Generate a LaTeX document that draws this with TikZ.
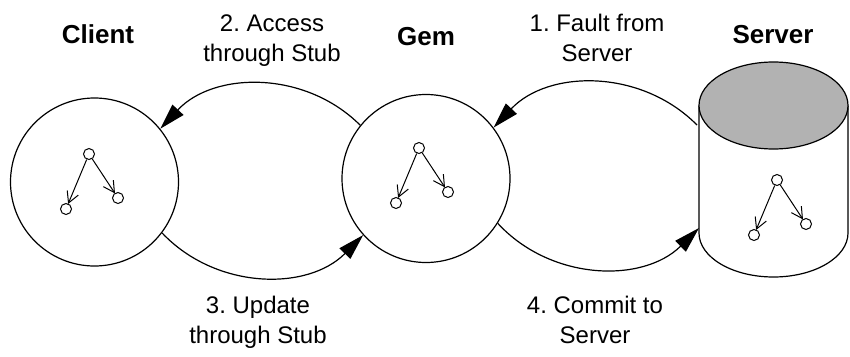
\documentclass[tikz,border=0pt]{standalone}
\usepackage{fontspec}
\setmainfont{Liberation Sans}
\usetikzlibrary{arrows.meta}
\frenchspacing

% big circles and the small object graphs inside them
\tikzset{
	store/.style={circle, draw, line width=1.2pt, minimum size=168pt, inner sep=0pt},
	obj/.style={circle, draw, line width=1pt, minimum size=11pt, inner sep=0pt},
	ref/.style={-{Straight Barb[length=11pt,width=12pt]}, line width=1pt, shorten >=-0.5pt},
	flow/.style={-{Triangle[length=26pt,width=15pt]}, line width=1.2pt, bend right=46},
	title/.style={font=\fontsize{26}{30}\selectfont\bfseries, anchor=base},
	msg/.style={font=\fontsize{24}{30}\selectfont, align=center, anchor=base}
}

% object graph: a root with two children, #1 = name prefix, (#2,#3) = root
\newcommand{\objgraph}[3]{%
	\node[obj] (#1root) at (#2,#3) {};
	\node[obj] (#1left) at (#2-23,#3+55) {};
	\node[obj] (#1right) at (#2+29,#3+44) {};
	\draw[ref] (#1root) -- (#1left);
	\draw[ref] (#1root) -- (#1right);
}

\begin{document}
\begin{tikzpicture}[x=1pt, y=-1pt]
	\useasboundingbox (0,0) rectangle (850,356);

	% Client and Gem
	\node[store] (client) at (94.5,182) {};
	\node[store] (gem) at (426,178.5) {};

	% Server cylinder
	\filldraw[fill=white, line width=1.2pt] (699,105.5) -- (699,233)
		arc[start angle=180, end angle=360, x radius=74.5pt, y radius=44pt] -- (848,105.5);
	\filldraw[fill=black!30, line width=1.2pt] (773.5,105.5) ellipse[x radius=74.5pt, y radius=43.5pt];
	\coordinate (srvtop) at (697,125);
	\coordinate (srvbot) at (699,228);

	% Object graphs
	\objgraph{c}{89}{154}
	\objgraph{g}{419}{148}
	\objgraph{s}{777}{180}

	% Steps between the stores
	\draw[flow] (srvtop) to (gem.37);
	\draw[flow] (gem.141) to (client.39);
	\draw[flow] (client.-37) to (gem.222);
	\draw[flow] (gem.-32) to (srvbot);

	% Titles
	\node[title] (clientname) at (98,43) {Client};
	\node[title] (gemname) at (426,45) {Gem};
	\node[title] (servername) at (773,43) {Server};

	% Step labels (anchored on the last line)
	\node[msg] (fault) at (597,61) {1. Fault from\\Server};
	\node[msg] (access) at (272,61) {2. Access\\through Stub};
	\node[msg] (update) at (258,343) {3. Update\\through Stub};
	\node[msg] (commit) at (595,343) {4. Commit to\\Server};

\end{tikzpicture}
\end{document}
